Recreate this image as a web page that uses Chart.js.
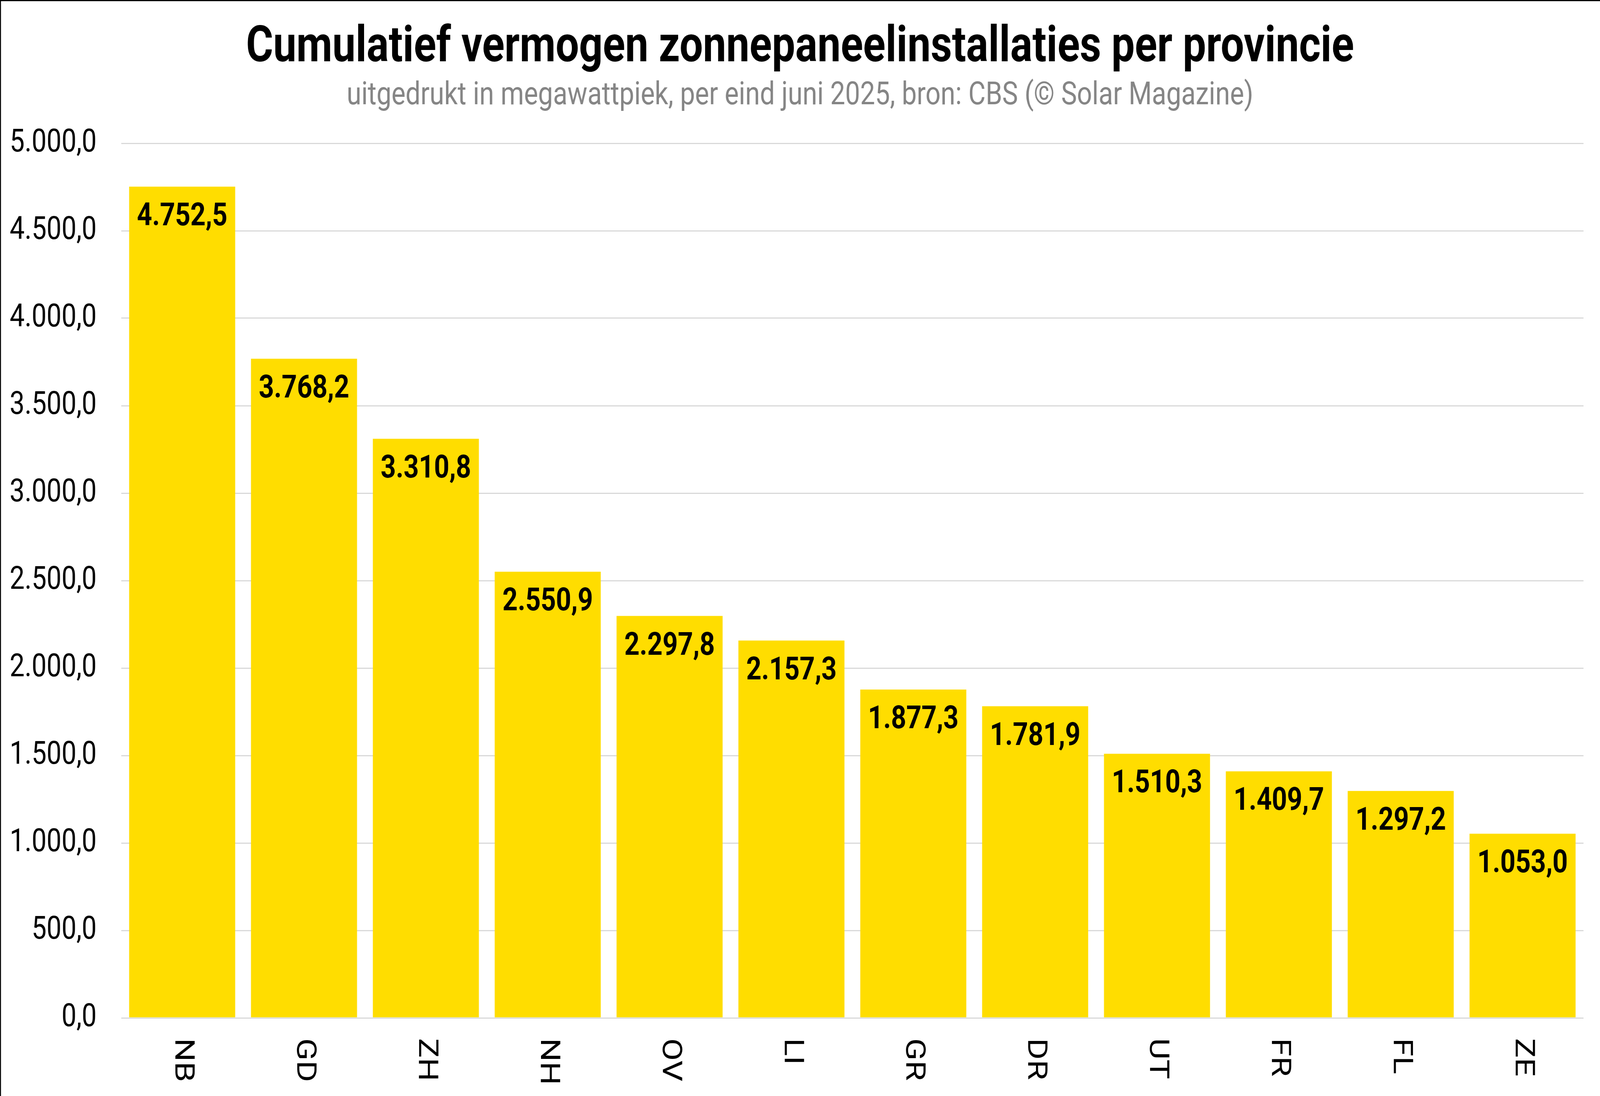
<!DOCTYPE html>
<html>
<head>
<meta charset="utf-8">
<script src="https://cdn.jsdelivr.net/npm/chart.js@4.4.1/dist/chart.umd.min.js"></script>
<style>
html,body{margin:0;padding:0;background:#ffffff;overflow:hidden}
#wrap{position:absolute;left:0;top:0;width:4936px;height:2807px;transform-origin:0 0}
canvas{display:block}
</style>
</head>
<body>
<div id="wrap"><canvas id="c" width="4936" height="2807" style="width:4936px;height:2807px"></canvas></div>
<script>
// ---- data ----
const categories = ['NB','GD','ZH','NH','OV','LI','GR','DR','UT','FR','FL','ZE'];
const values = [4752.5, 3768.2, 3310.8, 2550.9, 2297.8, 2157.3, 1877.3, 1781.9, 1510.3, 1409.7, 1297.2, 1053.0];
const yTickValues = [0, 500, 1000, 1500, 2000, 2500, 3000, 3500, 4000, 4500, 5000];
const titleText = 'Cumulatief vermogen zonnepaneelinstallaties per provincie';
const subtitleText = 'uitgedrukt in megawattpiek, per eind juni 2025, bron: CBS (© Solar Magazine)';

function fmtNL(v){
  const s = Number(v).toFixed(1);
  let [i, d] = s.split('.');
  i = i.replace(/\B(?=(\d{3})+(?!\d))/g, '.');
  return i + ',' + d;
}

// The drawing is laid out on a 4936 x 2807 sheet; fit that sheet to the actual viewport.
const VW = window.innerWidth || 4936;
const VH = window.innerHeight || 2807;
document.getElementById('wrap').style.transform = 'scale(' + (VW / 4936) + ',' + (VH / 2807) + ')';

const FONT = 'Roboto, "Noto Sans", sans-serif';

const decor = {
  id: 'decor',
  beforeDraw(chart){
    const ctx = chart.ctx;
    ctx.save();
    ctx.fillStyle = '#ffffff';
    ctx.fillRect(0, 0, chart.width, chart.height);
    ctx.restore();
  },
  afterDatasetsDraw(chart){
    const ctx = chart.ctx;
    const meta = chart.getDatasetMeta(0);
    ctx.save();
    ctx.fillStyle = '#000000';
    ctx.font = 'bold 82px ' + FONT;
    ctx.textAlign = 'center';
    ctx.textBaseline = 'alphabetic';
    meta.data.forEach((bar, i) => {
      ctx.fillText(fmtNL(chart.data.datasets[0].data[i]), bar.x, bar.y + 99);
    });
    ctx.restore();
  },
  afterDraw(chart){
    const ctx = chart.ctx;
    const xs = chart.scales.x;
    const area = chart.chartArea;
    ctx.save();
    // category labels, rotated to read top-to-bottom
    ctx.fillStyle = '#000000';
    ctx.font = '84px ' + FONT;
    ctx.textAlign = 'left';
    ctx.textBaseline = 'middle';
    chart.data.labels.forEach((lab, i) => {
      const x = xs.getPixelForValue(i);
      ctx.save();
      ctx.translate(x, area.bottom + 52);
      ctx.rotate(Math.PI / 2);
      ctx.fillText(lab, 0, 0);
      ctx.restore();
    });
    // title + subtitle
    ctx.textAlign = 'center';
    ctx.textBaseline = 'alphabetic';
    ctx.fillStyle = '#000000';
    ctx.font = 'bold 128px ' + FONT;
    ctx.fillText(titleText, chart.width / 2, 157);
    ctx.fillStyle = '#858585';
    ctx.font = '82px ' + FONT;
    ctx.fillText(subtitleText, chart.width / 2, 267);
    // frame lines (top, left)
    ctx.fillStyle = '#000000';
    ctx.fillRect(0, 0, chart.width, 3);
    ctx.fillRect(0, 0, 3, chart.height);
    ctx.restore();
  }
};

new Chart(document.getElementById('c'), {
  type: 'bar',
  data: {
    labels: categories,
    datasets: [{
      data: values,
      backgroundColor: '#FFDD00',
      borderWidth: 0,
      barPercentage: 0.87,
      categoryPercentage: 1.0
    }]
  },
  options: {
    responsive: false,
    animation: false,
    devicePixelRatio: Math.max(1, window.devicePixelRatio || 1),
    layout: { padding: { top: 367, right: 51, bottom: 0, left: 0 } },
    plugins: {
      legend: { display: false },
      title: { display: false },
      tooltip: { enabled: false }
    },
    scales: {
      x: {
        grid: { display: false },
        border: { display: false },
        ticks: { display: false },
        afterFit(scale){ scale.height = 200; }
      },
      y: {
        min: 0,
        max: 5000,
        afterBuildTicks(scale){ scale.ticks = yTickValues.map(v => ({ value: v })); },
        afterFit(scale){ scale.width = 374; },
        grid: { color: '#d9d9d9', lineWidth: 3, drawTicks: false },
        border: { display: false },
        ticks: {
          padding: 76,
          color: '#000000',
          font: { family: 'Roboto', size: 82 },
          callback: (v) => fmtNL(v)
        }
      }
    }
  },
  plugins: [decor]
});
</script>
</body>
</html>
